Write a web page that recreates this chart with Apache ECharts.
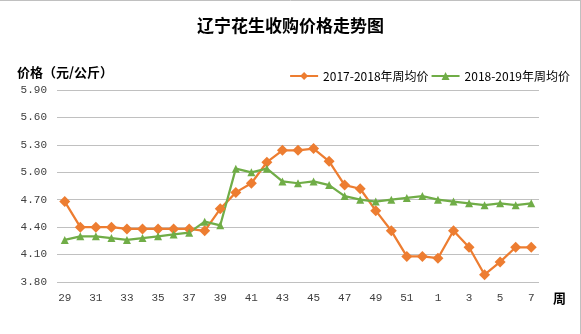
<!DOCTYPE html>
<html><head><meta charset="utf-8">
<script src="https://cdn.jsdelivr.net/npm/echarts@6/dist/echarts.min.js"></script>
<style>html,body{margin:0;padding:0;background:#fff}#c{width:581px;height:334px}</style>
</head><body><div id="c"></div>
<script>
var weeks = ['29','30','31','32','33','34','35','36','37','38','39','40','41','42','43','44','45','46','47','48','49','50','51','52','1','2','3','4','5','6','7'];
var price1718 = [4.68,4.40,4.40,4.40,4.38,4.38,4.38,4.38,4.38,4.36,4.60,4.78,4.88,5.11,5.24,5.24,5.26,5.12,4.86,4.82,4.58,4.36,4.08,4.08,4.06,4.36,4.18,3.88,4.02,4.18,4.18];
var price1819 = [4.26,4.30,4.30,4.28,4.26,4.28,4.30,4.32,4.34,4.46,4.42,5.04,5.00,5.04,4.90,4.88,4.90,4.86,4.74,4.70,4.68,4.70,4.72,4.74,4.70,4.68,4.66,4.64,4.66,4.64,4.66];
var yTicks = {min: 3.80, max: 5.90, interval: 0.30};
var names = ['2017-2018年周均价','2018-2019年周均价'];

var chart = echarts.init(document.getElementById('c'), null, {renderer:'canvas'});
var monoFont = '"Liberation Mono","DejaVu Sans Mono",monospace';
var cjk = '"Noto Sans CJK SC","Noto Sans",sans-serif';
chart.setOption({
  animation: false,
  backgroundColor: '#fff',
  title: {
    text: '辽宁花生收购价格走势图',
    left: 'center', top: 12,
    textStyle: {fontFamily: cjk, fontSize: 17, fontWeight: 'bold', color: '#000'}
  },
  legend: {
    right: 6, top: 65,
    itemWidth: 28, itemHeight: 10, itemGap: 2,
    textStyle: {fontFamily: cjk, fontSize: 12, color: '#000'},
    data: names
  },
  graphic: [
    {type:'line', shape:{x1:0,y1:0.5,x2:581,y2:0.5}, style:{stroke:'#c0c0c0', lineWidth:1}},
    {type:'line', shape:{x1:580.5,y1:0,x2:580.5,y2:334}, style:{stroke:'#c0c0c0', lineWidth:1}}
  ],
  grid: {left: 57, right: 42, top: 90, bottom: 52, containLabel: false},
  xAxis: {
    type: 'category',
    data: weeks,
    boundaryGap: true,
    name: '周',
    nameLocation: 'end',
    nameGap: 14,
    nameTextStyle: {fontFamily: cjk, fontSize: 13, fontWeight: 'bold', color: '#000', verticalAlign: 'top', padding: [10,0,0,0]},
    axisLine: {show: false},
    axisTick: {show: false},
    axisLabel: {interval: 1, fontFamily: monoFont, fontSize: 11, color: '#404040', margin: 11}
  },
  yAxis: {
    type: 'value',
    min: yTicks.min, max: yTicks.max, interval: yTicks.interval,
    name: '价格（元/公斤）',
    nameLocation: 'end',
    nameGap: 11,
    nameTextStyle: {fontFamily: cjk, fontSize: 13, fontWeight: 'bold', color: '#000', align: 'left', padding: [0,0,0,-40]},
    axisLine: {show: false},
    axisTick: {show: false},
    splitLine: {lineStyle: {color: '#c0c0c0', width: 1}},
    axisLabel: {formatter: function(v){return v.toFixed(2);}, fontFamily: monoFont, fontSize: 11, color: '#404040', margin: 10}
  },
  series: [
    {
      name: names[0], type: 'line', data: price1718,
      symbol: 'diamond', symbolSize: 11, showAllSymbol: true,
      lineStyle: {color: '#ED7D31', width: 2.25},
      itemStyle: {color: '#ED7D31'}
    },
    {
      name: names[1], type: 'line', data: price1819,
      symbol: 'triangle', symbolSize: 8, showAllSymbol: true,
      lineStyle: {color: '#70AD47', width: 2.25},
      itemStyle: {color: '#70AD47'}
    }
  ]
});
</script></body></html>
